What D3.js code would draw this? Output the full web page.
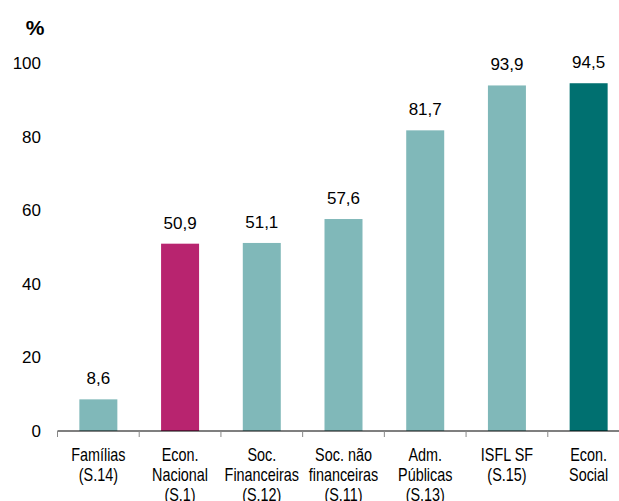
<!DOCTYPE html>
<html>
<head>
<meta charset="utf-8">
<script src="https://cdn.jsdelivr.net/npm/d3@7"></script>
<style>
  body { margin: 0; background: #fff; }
  text { font-family: "Liberation Sans", Arial, sans-serif; fill: #000; }
</style>
</head>
<body>
<div id="chart"></div>
<script>
// sectors and their values (%)
const categories = [
  ["Famílias", "(S.14)"],
  ["Econ.", "Nacional", "(S.1)"],
  ["Soc.", "Financeiras", "(S.12)"],
  ["Soc. não", "financeiras", "(S.11)"],
  ["Adm.", "Públicas", "(S.13)"],
  ["ISFL SF", "(S.15)"],
  ["Econ.", "Social"]
];
const values = [8.6, 50.9, 51.1, 57.6, 81.7, 93.9, 94.5];
const colors = ["#80b8b9", "#b8246f", "#80b8b9", "#80b8b9", "#80b8b9", "#80b8b9", "#007070"];
const yTicks = [0, 20, 40, 60, 80, 100];

const W = 619, H = 501;
const svg = d3.select("#chart").append("svg")
  .attr("width", W)
  .attr("height", H);

const x = d3.scaleBand()
  .domain(d3.range(categories.length))
  .range([57.5, 629.5])
  .paddingInner(0.535)
  .paddingOuter(0.2675);

const y = d3.scaleLinear()
  .domain([0, 100])
  .range([431, 63]);

// y tick labels, no axis line
svg.append("g")
  .selectAll("text")
  .data(yTicks)
  .join("text")
    .attr("x", 41)
    .attr("y", d => y(d))
    .attr("dy", "0.35em")
    .attr("text-anchor", "end")
    .attr("font-size", 17)
    .text(d => d);

svg.append("text")
  .attr("x", 35)
  .attr("y", 35)
  .attr("text-anchor", "middle")
  .attr("font-size", 21)
  .attr("font-weight", "bold")
  .text("%");

// bars
svg.append("g")
  .selectAll("rect")
  .data(values)
  .join("rect")
    .attr("x", (d, i) => x(i))
    .attr("width", x.bandwidth())
    .attr("y", d => y(d))
    .attr("height", d => y(0) - y(d))
    .attr("fill", (d, i) => colors[i]);

// value labels
svg.append("g")
  .selectAll("text")
  .data(values)
  .join("text")
    .attr("x", (d, i) => x(i) + x.bandwidth() / 2)
    .attr("y", d => y(d) - 15)
    .attr("text-anchor", "middle")
    .attr("font-size", 17)
    .text(d => d.toFixed(1).replace(".", ","));

// x axis line and ticks
const step = x.step();
svg.append("line")
  .attr("x1", 57.5).attr("x2", W)
  .attr("y1", y(0)).attr("y2", y(0))
  .attr("stroke", "#000")
  .attr("stroke-width", 1.2);

svg.append("g")
  .selectAll("line")
  .data(d3.range(categories.length + 1))
  .join("line")
    .attr("x1", i => 57.5 + i * step)
    .attr("x2", i => 57.5 + i * step)
    .attr("y1", y(0))
    .attr("y2", y(0) + 6)
    .attr("stroke", "#888");

// category labels (condensed, like Arial Narrow)
const xlab = svg.append("g");
categories.forEach((lines, i) => {
  const cx = x(i) + x.bandwidth() / 2;
  const t = xlab.append("text")
    .attr("transform", `translate(${cx},461) scale(0.8,1)`)
    .attr("text-anchor", "middle")
    .attr("font-size", 18);
  lines.forEach((s, k) => {
    t.append("tspan")
      .attr("x", 0)
      .attr("dy", k === 0 ? 0 : 20)
      .text(s);
  });
});
</script>
</body>
</html>
